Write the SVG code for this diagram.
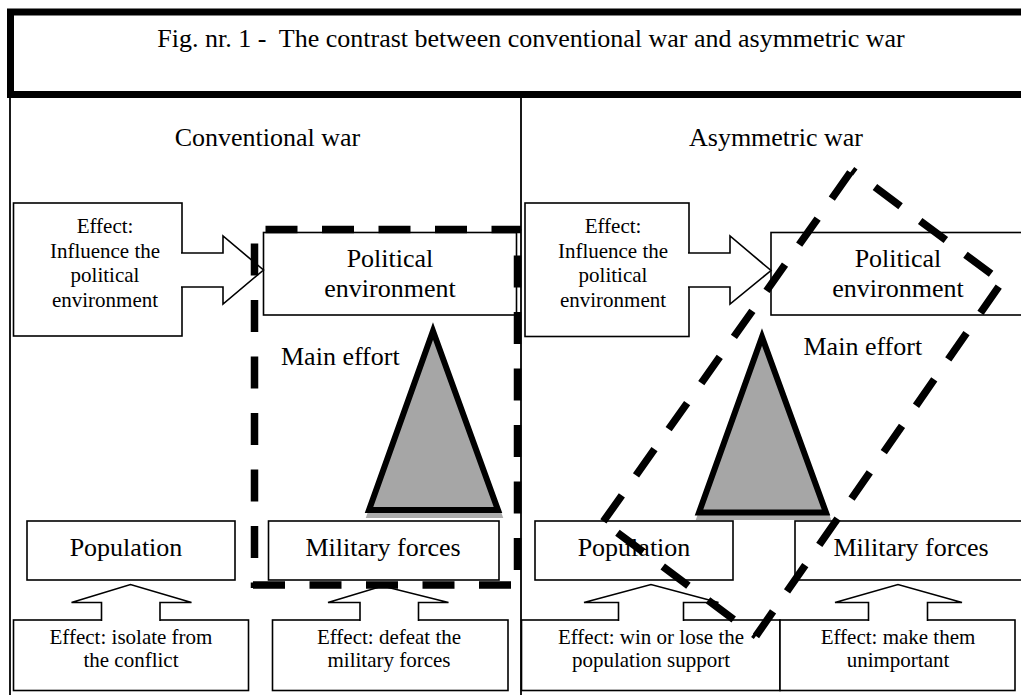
<svg xmlns="http://www.w3.org/2000/svg" width="1021" height="695" viewBox="0 0 1021 695">
  <style>
    text { font-family: 'Liberation Serif', 'DejaVu Serif', serif; fill: #000; }
    .big { font-size: 26px; text-anchor: middle; }
    .small { font-size: 21px; text-anchor: middle; }
    .box { fill: #fff; stroke: #000; stroke-width: 1.6; }
    .arrow { fill: #fff; stroke: #000; stroke-width: 1.6; stroke-linejoin: miter; }
    .panel { stroke: #000; stroke-width: 1.8; fill: none; }
    .tri { fill: #a6a6a6; stroke: #000; stroke-width: 6; stroke-linejoin: miter; }
    .shadow { fill: #ababab; stroke: #ababab; stroke-width: 6; stroke-linejoin: miter; }
    .dash { stroke: #000; stroke-width: 7.5; stroke-linecap: butt; stroke-dasharray: 32 24.5; fill: none; }
  </style>

  <rect x="0" y="0" width="1021" height="695" fill="#fff"/>

  <g font-family="Liberation Serif, DejaVu Serif, serif">
  <!-- title frame -->
  <g id="title">
    <rect x="10.5" y="12" width="1030" height="82.5" fill="#fff" stroke="#000" stroke-width="7"/>
    <text class="big" x="531" y="47" xml:space="preserve">Fig. nr. 1 -  The contrast between conventional war and asymmetric war</text>
  </g>

  <!-- panel frame lines -->
  <g id="panels">
    <line class="panel" x1="10" y1="98" x2="10" y2="695"/>
    <line class="panel" x1="521" y1="98" x2="521" y2="695"/>
    <text class="big" x="267.5" y="146">Conventional war</text>
    <text class="big" x="776" y="146">Asymmetric war</text>
  </g>

  <!-- ===== conventional side ===== -->
  <g id="conv-effect-political">
    <rect class="box" x="13.5" y="203" width="168.5" height="133"/>
    <text class="small" x="105" y="233">Effect:</text>
    <text class="small" x="105" y="257.5">Influence the</text>
    <text class="small" x="105" y="282">political</text>
    <text class="small" x="105" y="306.5">environment</text>
  </g>
  <g id="conv-political">
    <rect class="box" x="263.5" y="232.5" width="253" height="82.5"/>
    <text class="big" x="390" y="267">Political</text>
    <text class="big" x="390" y="297">environment</text>
  </g>
  <g id="conv-main-effort">
    <text x="281" y="365" font-size="26">Main effort</text>
    <polygon class="shadow" points="434,336 370,515 499,515"/>
    <polygon class="tri" points="433,331 369,510 498,510"/>
  </g>
  <g id="conv-population">
    <rect class="box" x="27" y="521" width="208" height="59"/>
    <text class="big" x="126" y="556">Population</text>
  </g>
  <g id="conv-military">
    <rect class="box" x="268.5" y="521" width="230.5" height="59"/>
    <text class="big" x="383" y="556">Military forces</text>
  </g>
  <g id="conv-effect-population">
    <rect class="box" x="13.5" y="620" width="235" height="70.5"/>
    <text class="small" x="131" y="643.5">Effect: isolate from</text>
    <text class="small" x="131" y="667">the conflict</text>
  </g>
  <g id="conv-effect-military">
    <rect class="box" x="272.5" y="620" width="235.5" height="70.5"/>
    <text class="small" x="389" y="643.5">Effect: defeat the</text>
    <text class="small" x="389" y="667">military forces</text>
  </g>

  <!-- ===== asymmetric side ===== -->
  <g id="asym-effect-political">
    <rect class="box" x="525" y="203" width="164" height="133.5"/>
    <text class="small" x="613" y="233">Effect:</text>
    <text class="small" x="613" y="257.5">Influence the</text>
    <text class="small" x="613" y="282">political</text>
    <text class="small" x="613" y="306.5">environment</text>
  </g>
  <g id="asym-political">
    <rect class="box" x="771" y="232.5" width="260" height="82.5"/>
    <text class="big" x="898" y="267">Political</text>
    <text class="big" x="898" y="297">environment</text>
  </g>
  <g id="asym-population">
    <rect class="box" x="535" y="521" width="198" height="59"/>
    <text class="big" x="634" y="556">Population</text>
  </g>
  <g id="asym-main-effort">
    <text x="803.5" y="355" font-size="26">Main effort</text>
    <polygon class="shadow" points="763,342 700,517 827,517"/>
    <polygon class="tri" points="762,337 699,512.5 826,512.5"/>
  </g>
  <g id="asym-military">
    <rect class="box" x="795" y="521" width="240" height="59"/>
    <text class="big" x="911" y="556">Military forces</text>
  </g>
  <g id="asym-effect-population">
    <rect class="box" x="521.5" y="620" width="258.5" height="70.5"/>
    <text class="small" x="651" y="643.5">Effect: win or lose the</text>
    <text class="small" x="651" y="667">population support</text>
  </g>
  <g id="asym-effect-military">
    <rect class="box" x="780" y="620" width="235" height="70.5"/>
    <text class="small" x="898" y="643.5">Effect: make them</text>
    <text class="small" x="898" y="667">unimportant</text>
  </g>
  </g>

  <!-- block arrows from the effect boxes to their targets -->
  <g id="connectors">
    <path class="arrow" d="M181,253 H223 V236 L263.5,270 L223,304 V287 H181"/>
    <path class="arrow" d="M688,253 H730 V236 L771,270.5 L730,304 V287 H688"/>
    <path class="arrow" d="M101.5,621 V602.5 H71.5 L130.5,584.5 L191.5,602.5 H160 V621"/>
    <path class="arrow" d="M360,621 V602.5 H328 L382.5,586 L448.5,602.5 H418.5 V621"/>
    <path class="arrow" d="M618.5,621 V602.5 H584 L651,584.5 L718.5,602.5 H683.5 V621"/>
    <path class="arrow" d="M868.5,621 V602.5 H835 L898,584.5 L962,602.5 H927.5 V621"/>
  </g>

  <!-- dashed focus outlines -->
  <g id="conv-focus">
    <line class="dash" x1="254" y1="229.5" x2="521" y2="229.5" stroke-dashoffset="45"/>
    <line class="dash" x1="517.5" y1="229" x2="517.5" y2="588" stroke-dashoffset="30"/>
    <line class="dash" x1="253" y1="585" x2="511" y2="585"/>
    <line class="dash" x1="254.5" y1="229" x2="254.5" y2="588" stroke-dashoffset="42"/>
  </g>
  <g id="asym-focus">
    <line class="dash" x1="852" y1="170" x2="603" y2="522" stroke-dashoffset="53.5"/>
    <line class="dash" x1="852" y1="170" x2="1002" y2="282" stroke-dashoffset="27.9"/>
    <line class="dash" x1="1002" y1="282" x2="756" y2="636" stroke-dashoffset="50.8"/>
    <line class="dash" x1="756" y1="636" x2="603" y2="522" stroke-dashoffset="28.7"/>
  </g>
</svg>
